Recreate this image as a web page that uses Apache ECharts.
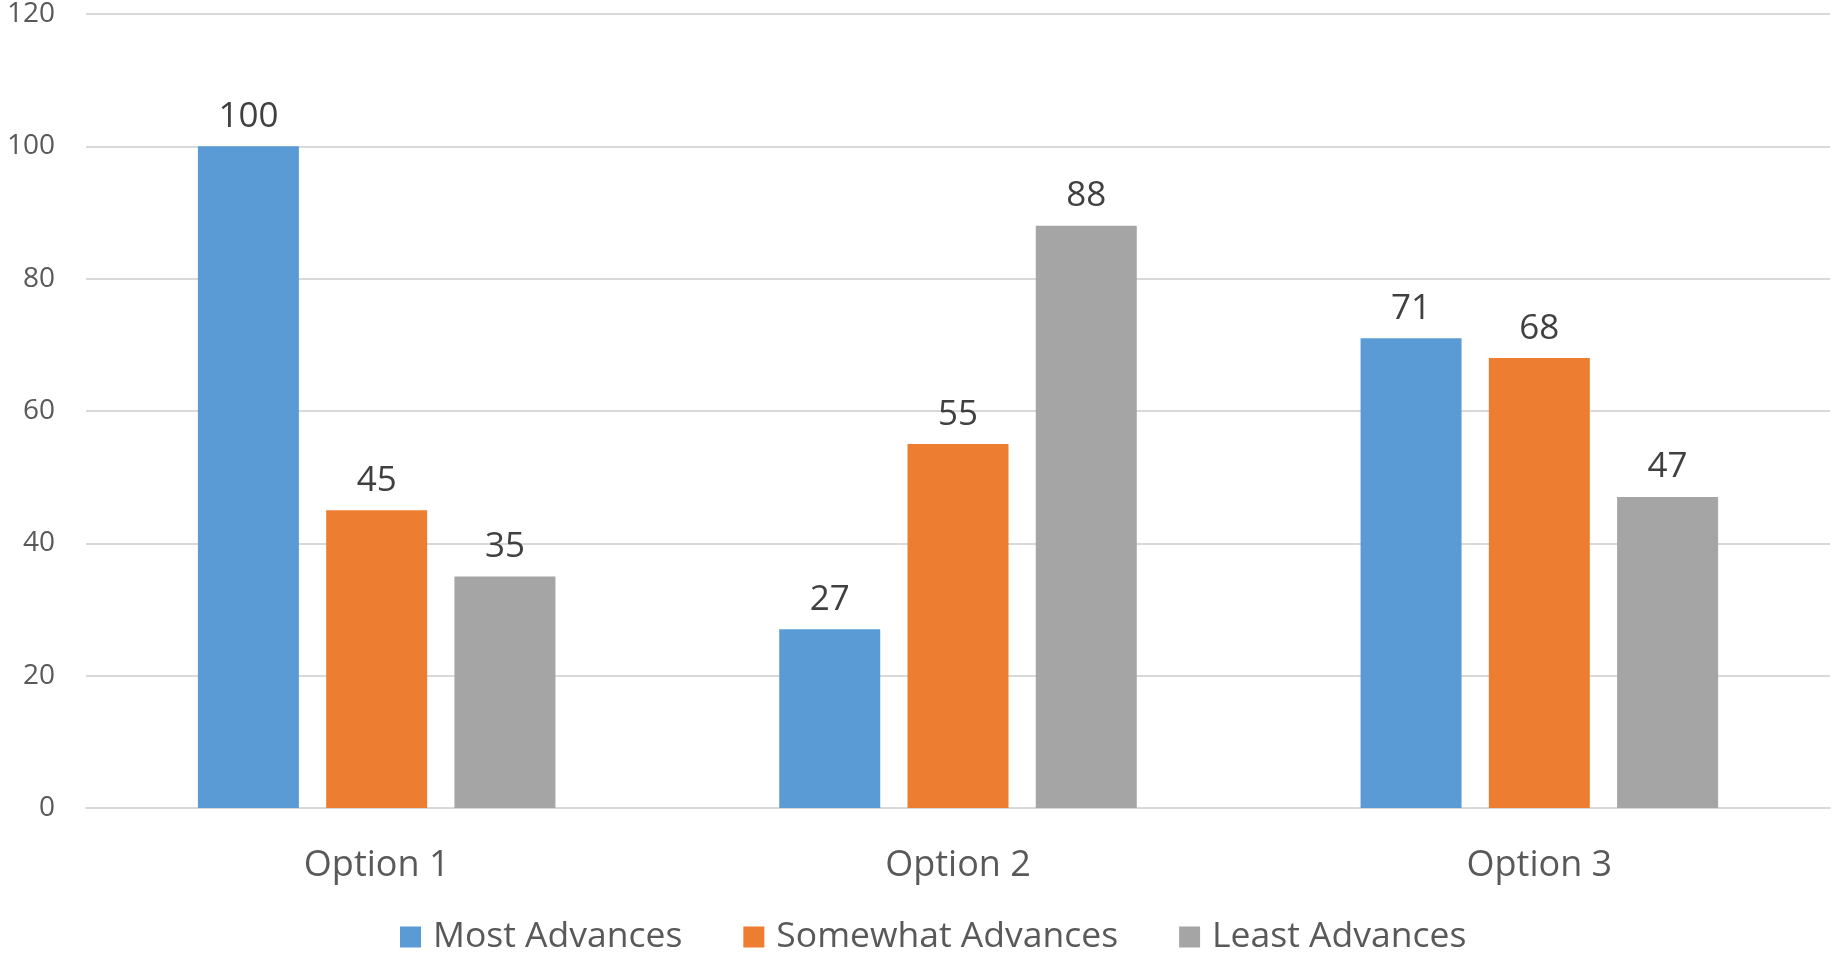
<!DOCTYPE html>
<html><head><meta charset="utf-8">
<script src="https://cdn.jsdelivr.net/npm/echarts@6/dist/echarts.min.js"></script>
<style>html,body{margin:0;padding:0;background:#fff}#c{width:1832px;height:958px}</style>
</head><body><div id="c"></div>
<script>
const categories = ['Option 1', 'Option 2', 'Option 3'];
const seriesNames = ['Most Advances', 'Somewhat Advances', 'Least Advances'];
const mostAdvances = [100, 27, 71];
const somewhatAdvances = [45, 55, 68];
const leastAdvances = [35, 88, 47];
const colors = ['#5B9BD5', '#ED7D31', '#A5A5A5'];
const yTicks = [0, 20, 40, 60, 80, 100, 120];

const FONT = '"Open Sans", "Noto Sans", sans-serif';
const chart = echarts.init(document.getElementById('c'), null, {renderer: 'canvas'});
const values = [mostAdvances, somewhatAdvances, leastAdvances];
chart.setOption({
  animation: false,
  textStyle: {fontFamily: FONT},
  grid: {left: 86, right: 2, top: 14, bottom: 150, containLabel: false},
  legend: {
    bottom: 3, left: 400, padding: 0,
    itemWidth: 21, itemHeight: 21, itemGap: 61,
    icon: 'rect',
    textStyle: {fontSize: 35.5, color: '#595959', fontFamily: FONT, padding: [0, 0, 0, 7]},
    data: seriesNames
  },
  xAxis: {
    type: 'category', data: categories,
    axisLine: {lineStyle: {color: '#D9D9D9', width: 2}},
    axisTick: {show: false},
    axisLabel: {fontSize: 36, color: '#595959', margin: 40, fontFamily: FONT}
  },
  yAxis: {
    type: 'value', min: yTicks[0], max: yTicks[yTicks.length - 1], interval: 20,
    axisLine: {show: false}, axisTick: {show: false},
    splitLine: {lineStyle: {color: '#D9D9D9', width: 2}},
    axisLabel: {fontSize: 28, color: '#595959', margin: 31, fontFamily: FONT}
  },
  series: seriesNames.map((n, i) => ({
    name: n, type: 'bar', data: values[i],
    barWidth: 101, barGap: '27%',
    itemStyle: {color: colors[i]},
    label: {show: true, position: 'top', distance: 12, fontSize: 35, color: '#404040', fontFamily: FONT}
  }))
});
</script></body></html>
